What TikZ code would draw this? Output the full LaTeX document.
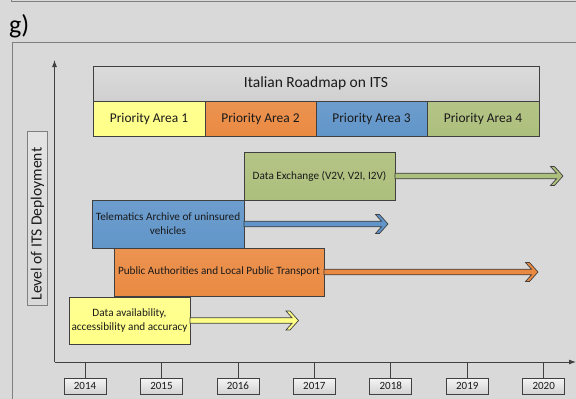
\documentclass[tikz,border=0pt]{standalone}
\usepackage{fontspec}
\setmainfont{Carlito}
\usetikzlibrary{calc,arrows.meta}

\definecolor{bgcol}{HTML}{D9D9D9}
\definecolor{panelgray}{HTML}{7F7F7F}
\definecolor{edge}{HTML}{404040}
\definecolor{inktext}{HTML}{1A1A1A}
\definecolor{payellow}{HTML}{FFFF88}
\definecolor{paorange}{HTML}{EA8A42}
\definecolor{pablue}{HTML}{6195C9}
\definecolor{pagreen}{HTML}{ADBF7C}

% block arrow: narrow shaft ending in a chevron head
\newcommand\roadarrow[3]{%
  \draw[arrowline, fill=#3] let \p1=(#1), \p2=(#2) in
    (\x1,\y1+2.8pt) -- (\x2-6.5pt,\y1+2.8pt) -- (\x2-12.5pt,\y1+9.5pt)
    -- (\x2-8.5pt,\y1+9.5pt) -- (\x2,\y1) -- (\x2-8.5pt,\y1-9.5pt)
    -- (\x2-12.5pt,\y1-9.5pt) -- (\x2-6.5pt,\y1-2.8pt) -- (\x1,\y1-2.8pt) -- cycle;}

\begin{document}
\begin{tikzpicture}[x=1pt,y=-1pt,
  panel/.style={draw=panelgray, line width=0.9pt},
  axisline/.style={draw=edge, line width=0.9pt},
  tickline/.style={draw=edge, line width=0.8pt},
  arrowline/.style={draw=edge, line width=0.7pt, line join=miter},
  box/.style={draw=edge, line width=0.8pt, inner sep=0pt, outer sep=0pt,
    anchor=north west, align=center, text=inktext,
    font=\fontsize{11.2}{13.7}\selectfont},
  areabox/.style={box, minimum height=35, font=\fontsize{13.4}{15}\selectfont},
  yearbox/.style={draw=edge, line width=0.8pt, inner sep=0pt, outer sep=0pt,
    minimum width=42, minimum height=16, anchor=north, text=inktext,
    top color=gray!8, bottom color=gray!35,
    font=\fontsize{11}{12}\selectfont},
]
\useasboundingbox (0,0) rectangle (576,399);
\fill[bgcol] (0,0) rectangle (576,399);

% panel frames
\draw[panel] (11,0) -- (11,1.5) -- (576,1.5);
\draw[panel] (12.5,399) -- (12.5,42.5) -- (576,42.5);
\node[anchor=west, inner sep=0pt, font=\fontsize{26}{28}\selectfont] (panel) at (9,26) {g)};

% axes
\coordinate (origin) at (54.5,362);
\coordinate (ytop) at (54.5,60);
\coordinate (xend) at (576,362);
\draw[axisline, -{Latex[length=7pt,width=5pt]}] (origin) -- (ytop);
\draw[axisline, -{Latex[length=7pt,width=5pt]}] (origin) -- (xend);

\node[draw=panelgray, line width=0.8pt, inner sep=0pt, anchor=north west,
  minimum width=19.5, minimum height=174, top color=gray!22, bottom color=gray!30,
  text=inktext] (ylabel) at (27,131) {};
\node[rotate=90, inner sep=0pt, text=inktext, font=\fontsize{15.6}{17}\selectfont]
  (ylabeltext) at (37.5,224) {Level of ITS Deployment};

% roadmap header and priority areas
\node[box, minimum width=446, minimum height=35, top color=gray!28, bottom color=gray!37,
  font=\fontsize{15.5}{17}\selectfont] (head) at (93,66) {Italian Roadmap on ITS};
\node[areabox, minimum width=112, top color=payellow!92!white, bottom color=payellow] (pa1) at (93,101) {Priority Area 1};
\node[areabox, minimum width=111, top color=paorange!92!white, bottom color=paorange] (pa2) at (205,101) {Priority Area 2};
\node[areabox, minimum width=111, top color=pablue!92!white, bottom color=pablue] (pa3) at (316,101) {Priority Area 3};
\node[areabox, minimum width=112, top color=pagreen!92!white, bottom color=pagreen] (pa4) at (427,101) {Priority Area 4};

% initiatives
\node[box, minimum width=151, minimum height=48, top color=pagreen!92!white, bottom color=pagreen] (dx) at (244,152) {Data Exchange (V2V, V2I, I2V)};
\node[box, minimum width=152, minimum height=48, top color=pablue!92!white, bottom color=pablue] (tel) at (92,200) {Telematics Archive of uninsured\\vehicles};
\node[box, minimum width=210, minimum height=48, top color=paorange!92!white, bottom color=paorange] (pub) at (114,248) {Public Authorities and Local Public Transport};
\node[box, minimum width=121, minimum height=47, top color=payellow!92!white, bottom color=payellow] (dav) at (69,297) {Data availability,\\accessibility and accuracy};

% arrow ends
\coordinate (dxend) at (563,176);
\coordinate (telend) at (388,224);
\coordinate (pubend) at (538,272);
\coordinate (davend) at (298.5,320);

\roadarrow{dx.east}{dxend}{pagreen}
\roadarrow{tel.east}{telend}{pablue}
\roadarrow{pub.east}{pubend}{paorange}
\roadarrow{dav.east}{davend}{payellow}

% years
\foreach \yr [count=\i from 0] in {2014,2015,2016,2017,2018,2019,2020} {
  \coordinate (t\yr) at (85+76.45*\i,362);
  \node[yearbox] (y\yr) at (85+76.45*\i,378) {\yr};
  \draw[tickline] (t\yr) -- (y\yr.north);
}
\end{tikzpicture}
\end{document}
